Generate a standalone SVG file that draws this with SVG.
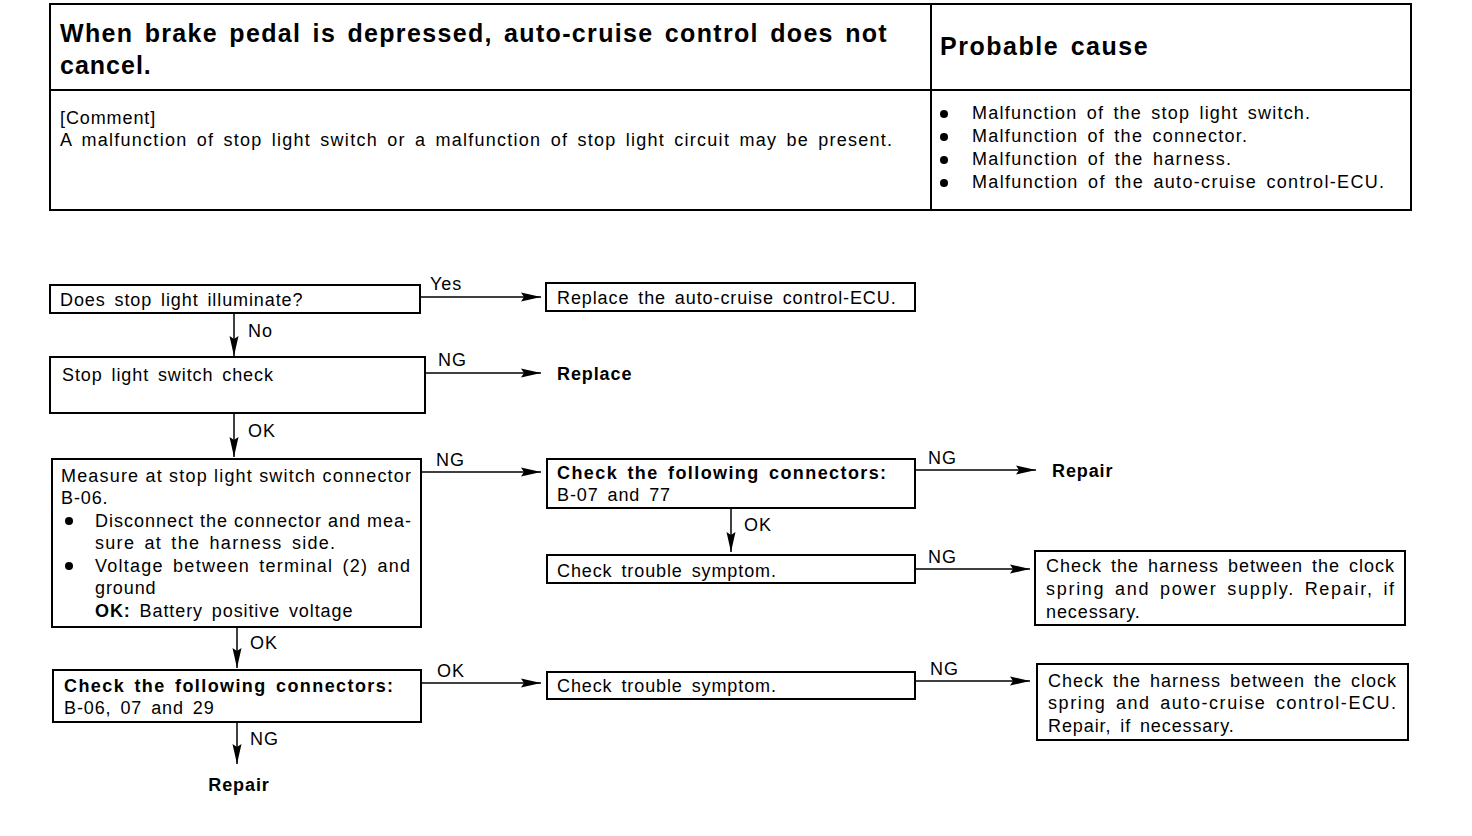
<svg xmlns="http://www.w3.org/2000/svg" width="1472" height="836" viewBox="0 0 1472 836">
<style>
text{font-family:"Liberation Sans",Arial,sans-serif;font-size:18px;fill:#000;letter-spacing:0.9px;word-spacing:3px}
.b{font-weight:bold}
.t{font-size:25px;font-weight:bold;letter-spacing:0.3px}
.box{fill:#fff;stroke:#000;stroke-width:2}
.ln{stroke:#000;stroke-width:1.5;fill:none}
</style>
<defs>
<marker id="ah" viewBox="0 0 20 10" refX="20" refY="5" markerWidth="20" markerHeight="10" markerUnits="userSpaceOnUse" orient="auto">
<path d="M0,0.5 L20,5 L0,9.5 L3,5 Z" fill="#000"/>
</marker>
</defs>
<rect width="1472" height="836" fill="#fff"/>
<g id="header">
<rect x="50" y="4" width="1361" height="206" fill="none" stroke="#000" stroke-width="2"/>
<line x1="931" y1="4" x2="931" y2="210" stroke="#000" stroke-width="2"/>
<line x1="50" y1="90" x2="1411" y2="90" stroke="#000" stroke-width="2"/>
<text class="t" x="60" y="42" textLength="827">When brake pedal is depressed, auto-cruise control does not</text>
<text class="t" x="60" y="74" style="letter-spacing:1px">cancel.</text>
<text class="t" x="940" y="55" textLength="208">Probable cause</text>
<text x="60" y="124">[Comment]</text>
<text x="60" y="146" textLength="833">A malfunction of stop light switch or a malfunction of stop light circuit may be present.</text>
<circle cx="944" cy="114" r="4"/><text x="972" y="119" textLength="339">Malfunction of the stop light switch.</text>
<circle cx="944" cy="137" r="4"/><text x="972" y="142" textLength="276">Malfunction of the connector.</text>
<circle cx="944" cy="160" r="4"/><text x="972" y="165" textLength="260">Malfunction of the harness.</text>
<circle cx="944" cy="183" r="4"/><text x="972" y="188" textLength="413">Malfunction of the auto-cruise control-ECU.</text>
</g>
<g id="connectors">
<line class="ln" x1="420" y1="297" x2="541" y2="297" marker-end="url(#ah)"/>
<text x="430" y="290">Yes</text>
<line class="ln" x1="234" y1="313" x2="234" y2="356" marker-end="url(#ah)"/>
<text x="248" y="337">No</text>
<line class="ln" x1="425" y1="373" x2="541" y2="373" marker-end="url(#ah)"/>
<text x="438" y="366">NG</text>
<line class="ln" x1="234" y1="413" x2="234" y2="457" marker-end="url(#ah)"/>
<text x="248" y="437">OK</text>
<line class="ln" x1="421" y1="472" x2="541" y2="472" marker-end="url(#ah)"/>
<text x="436" y="466">NG</text>
<line class="ln" x1="915" y1="470" x2="1036" y2="470" marker-end="url(#ah)"/>
<text x="928" y="464">NG</text>
<line class="ln" x1="731" y1="508" x2="731" y2="552" marker-end="url(#ah)"/>
<text x="744" y="531">OK</text>
<line class="ln" x1="915" y1="569" x2="1030" y2="569" marker-end="url(#ah)"/>
<text x="928" y="563">NG</text>
<line class="ln" x1="237" y1="627" x2="237" y2="668" marker-end="url(#ah)"/>
<text x="250" y="649">OK</text>
<line class="ln" x1="421" y1="683" x2="541" y2="683" marker-end="url(#ah)"/>
<text x="437" y="677">OK</text>
<line class="ln" x1="915" y1="681" x2="1030" y2="681" marker-end="url(#ah)"/>
<text x="930" y="675">NG</text>
<line class="ln" x1="237" y1="722" x2="237" y2="764" marker-end="url(#ah)"/>
<text x="250" y="745">NG</text>
</g>
<g id="n1"><rect class="box" x="50" y="285" width="370" height="28"/><text x="60" y="306">Does stop light illuminate?</text></g>
<g id="n2"><rect class="box" x="546" y="283" width="369" height="28"/><text x="557" y="304">Replace the auto-cruise control-ECU.</text></g>
<g id="n3"><rect class="box" x="50" y="357" width="375" height="56"/><text x="62" y="381">Stop light switch check</text></g>
<g id="n4"><text class="b" x="557" y="380">Replace</text></g>
<g id="n5"><rect class="box" x="52" y="459" width="369" height="168"/>
<text x="61" y="482" textLength="350" style="letter-spacing:0;word-spacing:0">Measure at stop light switch connector</text>
<text x="61" y="504">B-06.</text>
<circle cx="69" cy="521" r="4"/>
<text x="95" y="527" textLength="316" style="letter-spacing:0;word-spacing:0">Disconnect the connector and mea-</text>
<text x="95" y="549" textLength="241">sure at the harness side.</text>
<circle cx="69" cy="566" r="4"/>
<text x="95" y="572" textLength="316">Voltage between terminal (2) and</text>
<text x="95" y="594">ground</text>
<text x="95" y="617"><tspan class="b">OK:</tspan> Battery positive voltage</text>
</g>
<g id="n6"><rect class="box" x="547" y="459" width="368" height="49"/><text class="b" x="557" y="479" textLength="330">Check the following connectors:</text><text x="557" y="501">B-07 and 77</text></g>
<g id="n7"><text class="b" x="1052" y="477">Repair</text></g>
<g id="n8"><rect class="box" x="547" y="555" width="368" height="28"/><text x="557" y="577">Check trouble symptom.</text></g>
<g id="n9"><rect class="box" x="1035" y="551" width="370" height="74"/>
<text x="1046" y="572" textLength="349">Check the harness between the clock</text>
<text x="1046" y="595" textLength="349">spring and power supply. Repair, if</text>
<text x="1046" y="618">necessary.</text>
</g>
<g id="n10"><rect class="box" x="53" y="670" width="368" height="52"/><text class="b" x="64" y="692" textLength="330">Check the following connectors:</text><text x="64" y="714">B-06, 07 and 29</text></g>
<g id="n11"><rect class="box" x="547" y="672" width="368" height="27"/><text x="557" y="692">Check trouble symptom.</text></g>
<g id="n12"><rect class="box" x="1037" y="664" width="371" height="76"/>
<text x="1048" y="687" textLength="349">Check the harness between the clock</text>
<text x="1048" y="709" textLength="349">spring and auto-cruise control-ECU.</text>
<text x="1048" y="732">Repair, if necessary.</text>
</g>
<g id="n13"><text class="b" x="239" y="791" text-anchor="middle">Repair</text></g>
</svg>
